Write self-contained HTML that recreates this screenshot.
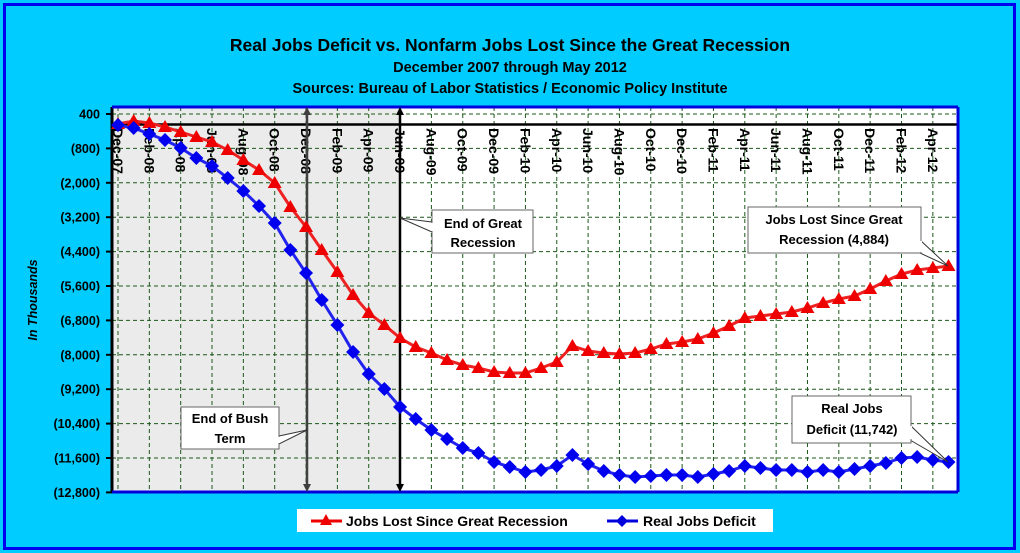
<!DOCTYPE html>
<html><head><meta charset="utf-8"><style>
html,body{margin:0;padding:0;background:#00CCFF;}
svg{display:block;font-family:"Liberation Sans",Arial,sans-serif;}
</style></head><body>
<svg width="1020" height="553" viewBox="0 0 1020 553" xmlns="http://www.w3.org/2000/svg">
<rect x="0" y="0" width="1020" height="553" fill="#00CCFF"/>
<rect x="4.5" y="4.5" width="1010" height="544" fill="none" stroke="#0000EE" stroke-width="3"/>
<text x="510" y="51" text-anchor="middle" font-size="17.5" font-weight="bold" fill="#000">Real Jobs Deficit vs. Nonfarm Jobs Lost Since the Great Recession</text>
<text x="510" y="72" text-anchor="middle" font-size="14.5" font-weight="bold" fill="#000">December 2007 through May 2012</text>
<text x="510" y="93" text-anchor="middle" font-size="14.5" font-weight="bold" fill="#000">Sources: Bureau of Labor Statistics / Economic Policy Institute</text>
<rect x="112" y="107" width="846" height="385" fill="#fff"/>
<rect x="112" y="107" width="288" height="385" fill="#EBEBEB"/>
<g id="grid" stroke="#1a5a1a" stroke-width="1" stroke-dasharray="4,3" fill="none"></g>
<g id="ticks" font-size="12.5" font-weight="bold" fill="#000"></g>
<line x1="112" y1="124.5" x2="958" y2="124.5" stroke="#000" stroke-width="2.5"/>
<line x1="112" y1="107" x2="112" y2="492" stroke="#000" stroke-width="3"/>
<line x1="112" y1="107" x2="958" y2="107" stroke="#0000DD" stroke-width="3"/>
<line x1="958" y1="107" x2="958" y2="492" stroke="#0000DD" stroke-width="3"/>
<line x1="112" y1="492" x2="958" y2="492" stroke="#0000DD" stroke-width="3"/>
<line x1="307" y1="112" x2="307" y2="488" stroke="#404040" stroke-width="2.5"/>
<polygon points="307,107 303,115 311,115" fill="#404040"/><polygon points="307,492 303,484 311,484" fill="#404040"/>
<line x1="400" y1="112" x2="400" y2="488" stroke="#000" stroke-width="2.5"/>
<polygon points="400,107 396,115 404,115" fill="#000"/><polygon points="400,492 396,484 404,484" fill="#000"/>
<g id="series"></g>
<g font-size="13" font-weight="bold" fill="#000">
<polygon points="432,222 400,218 432,232" fill="#fff" stroke="#333"/>
<rect x="432" y="210" width="101" height="43" fill="#fff" stroke="#666"/>
<line x1="432" y1="223" x2="432" y2="231" stroke="#fff" stroke-width="2"/>
<text x="483" y="228" text-anchor="middle">End of Great</text><text x="483" y="247" text-anchor="middle">Recession</text>
<polygon points="279,436 307,430 279,444" fill="#fff" stroke="#333"/>
<rect x="181" y="407" width="98" height="42" fill="#fff" stroke="#666"/>
<line x1="279" y1="437" x2="279" y2="443" stroke="#fff" stroke-width="2"/>
<text x="230" y="423" text-anchor="middle">End of Bush</text><text x="230" y="443" text-anchor="middle">Term</text>
<polygon points="920,240 948,266 920,253" fill="#fff" stroke="#333"/>
<rect x="748" y="207" width="173" height="46" fill="#fff" stroke="#666"/>
<line x1="921" y1="241" x2="921" y2="252" stroke="#fff" stroke-width="2"/>
<text x="834" y="224" text-anchor="middle">Jobs Lost Since Great</text><text x="834" y="244" text-anchor="middle">Recession (4,884)</text>
<polygon points="910,425 948,462 910,440" fill="#fff" stroke="#333"/>
<rect x="792" y="396" width="119" height="47" fill="#fff" stroke="#666"/>
<line x1="911" y1="426" x2="911" y2="439" stroke="#fff" stroke-width="2"/>
<text x="852" y="413" text-anchor="middle">Real Jobs</text><text x="852" y="434" text-anchor="middle">Deficit (11,742)</text>
</g>
<text transform="translate(37,300) rotate(-90)" text-anchor="middle" font-size="12.5" font-style="italic" font-weight="bold" fill="#000">In Thousands</text>
<rect x="297" y="509" width="476" height="23" fill="#fff"/>
<line x1="311" y1="521" x2="342" y2="521" stroke="#EE0000" stroke-width="3"/>
<polygon points="326,514 320,525 332,525" fill="#EE0000"/>
<text x="346" y="526" font-size="14" font-weight="bold" fill="#000">Jobs Lost Since Great Recession</text>
<line x1="607" y1="521" x2="638" y2="521" stroke="#0000DD" stroke-width="3"/>
<polygon points="622,515 628,521 622,527 616,521" fill="#0000DD"/>
<text x="643" y="526" font-size="14" font-weight="bold" fill="#000">Real Jobs Deficit</text>
</svg>
<script>
var NS="http://www.w3.org/2000/svg";
function el(t,a,p){var e=document.createElementNS(NS,t);for(var k in a)e.setAttribute(k,a[k]);p.appendChild(e);return e;}
var grid=document.getElementById('grid'),ticks=document.getElementById('ticks'),ser=document.getElementById('series');
var X=function(i){return 118+15.67*i;};
var ylab=["400","(800)","(2,000)","(3,200)","(4,400)","(5,600)","(6,800)","(8,000)","(9,200)","(10,400)","(11,600)","(12,800)"];
for(var k=0;k<12;k++){var y=114+k*34.4;
 if(k<11)el('line',{x1:112,y1:y,x2:958,y2:y},grid);
 el('line',{x1:106,y1:y,x2:112,y2:y,stroke:'#000','stroke-width':2},ticks);
 var t=el('text',{x:100,y:y+4.5,'text-anchor':'end'},ticks);t.textContent=ylab[k];}
var mon=["Dec","Feb","Apr","Jun","Aug","Oct"];
for(var i=0;i<54;i+=2){var x=X(i);
 el('line',{x1:x,y1:107,x2:x,y2:492},grid);
 var yr=2007+Math.floor((i+11)/12);var m=mon[(i/2)%6];
 var t=el('text',{transform:'translate('+(x-5)+',128) rotate(90)','font-size':'14'},ticks);
 t.textContent=m+"-"+String(yr).slice(2);}
var red=[124,121,123,127,132,137,142,150,160,170,183,207,227,250,272,295,313,325,338,347,353,360,365,368,372,373,373,368,362,346,351,353,354,353,349,344,342,339,333,326,318,316,314,312,308,303,299,296,289,281,274,270,268,266];
var blue=[125,128,134,140,148,158,166,178,191,206,223,250,273,300,325,352,374,389,407,419,430,439,448,453,462,467,472,470,466,455,464,471,475,477,476,475,475,477,474,471,466,468,470,470,472,470,472,469,466,463,458,457,460,462];
function line(d,c){var p=d.map(function(v,i){return X(i).toFixed(1)+','+v;}).join(' ');el('polyline',{points:p,fill:'none',stroke:c,'stroke-width':3},ser);}
line(red,'#EE2222');line(blue,'#2222EE');
red.forEach(function(v,i){var x=X(i);el('polygon',{points:x+','+(v-7)+' '+(x-7)+','+(v+5)+' '+(x+7)+','+(v+5),fill:'#EE0000'},ser);});
blue.forEach(function(v,i){var x=X(i);el('polygon',{points:x+','+(v-7)+' '+(x+7)+','+v+' '+x+','+(v+7)+' '+(x-7)+','+v,fill:'#0000EE'},ser);});
</script>
</body></html>
